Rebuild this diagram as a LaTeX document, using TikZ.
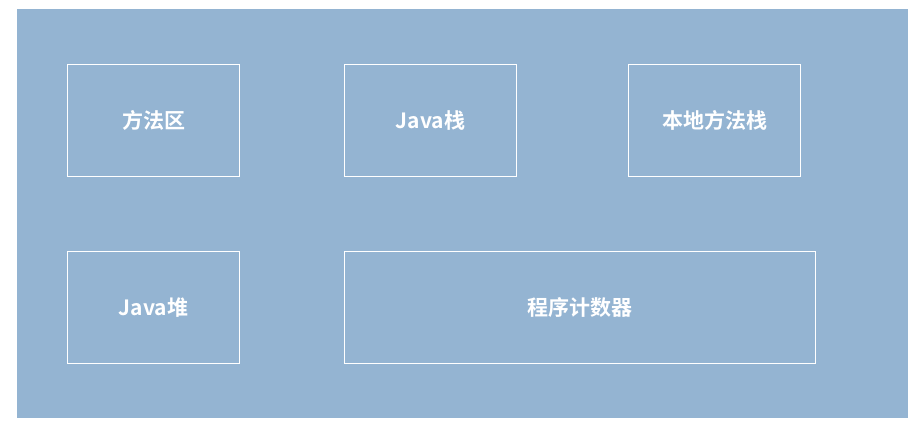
\documentclass[tikz,border=0pt]{standalone}
\usepackage{fontspec}
\newfontfamily\cjk{Noto Sans CJK SC}[BoldFont={Noto Sans CJK SC Bold}]
\definecolor{bgblue}{HTML}{94B4D2}
\begin{document}
\begin{tikzpicture}[x=1pt,y=-1pt,
  box/.style={draw=white,line width=1pt,fill=none,inner sep=0pt,anchor=north west,font=\cjk\bfseries\fontsize{21}{24}\selectfont,text=white,align=center}]
\useasboundingbox (0,0) rectangle (913,422);
\fill[bgblue] (17,9) rectangle (908,418);
\node[box,minimum width=172pt,minimum height=112pt] (ffq) at (67,64) {方法区};
\node[box,minimum width=172pt,minimum height=112pt] (jz) at (344,64) {Java栈};
\node[box,minimum width=172pt,minimum height=112pt] (bd) at (628,64) {本地方法栈};
\node[box,minimum width=172pt,minimum height=112pt] (jd) at (67,251) {Java堆};
\node[box,minimum width=471pt,minimum height=112pt] (cx) at (344,251) {程序计数器};
\end{tikzpicture}
\end{document}
